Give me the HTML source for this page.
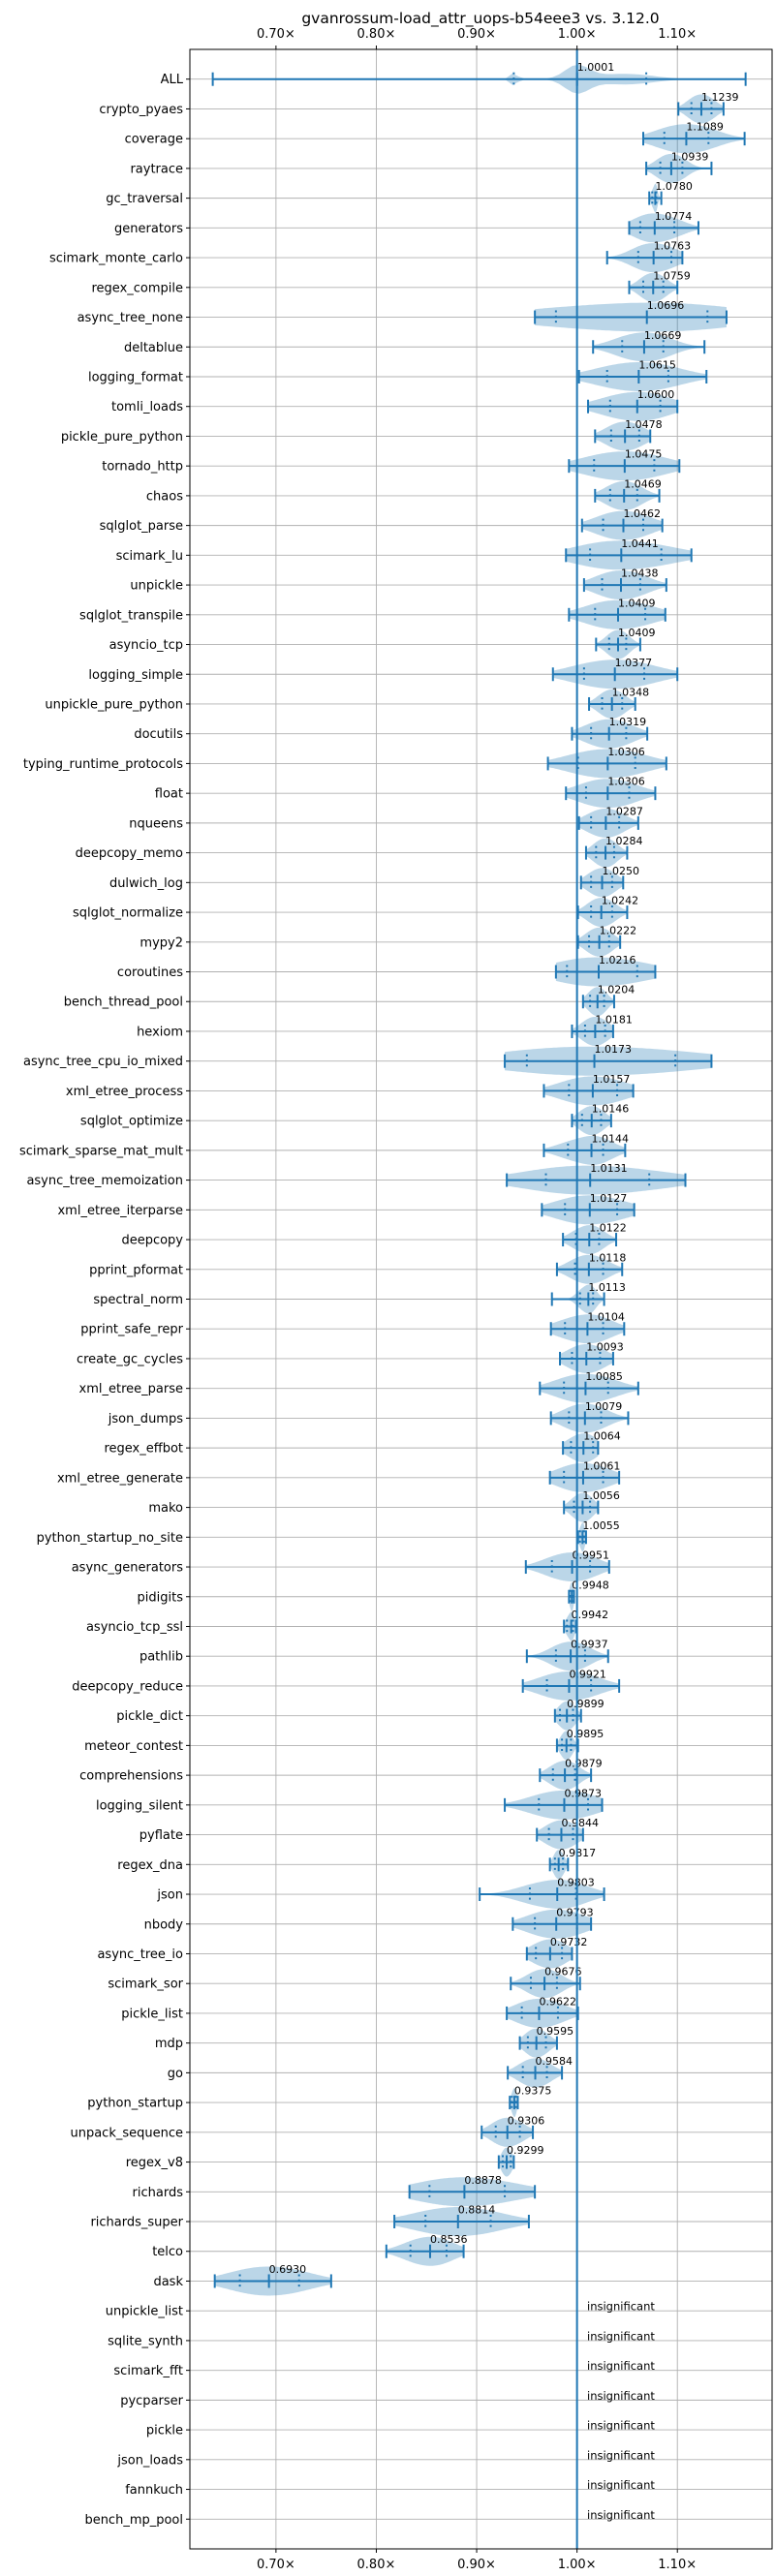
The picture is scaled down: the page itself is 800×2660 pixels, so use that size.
<!DOCTYPE html>
<html><head><meta charset="utf-8"><style>
html,body{margin:0;padding:0;background:#fff;}
svg{display:block;font-family:"DejaVu Sans","Liberation Sans",sans-serif;}
</style></head><body>
<svg id="chart" width="800" height="2660" viewBox="0 0 800 2660" xmlns="http://www.w3.org/2000/svg">
<rect x="0" y="0" width="800" height="2660" fill="#fff"/>
<text x="496" y="24" font-size="15.5" text-anchor="middle" fill="#000">gvanrossum-load_attr_uops-b54eee3 vs. 3.12.0</text>
<g id="grid"></g>
<g id="marks"></g>
<g id="axes"></g>
</svg>
<script>
const names = ["ALL","crypto_pyaes","coverage","raytrace","gc_traversal","generators","scimark_monte_carlo","regex_compile","async_tree_none","deltablue","logging_format","tomli_loads","pickle_pure_python","tornado_http","chaos","sqlglot_parse","scimark_lu","unpickle","sqlglot_transpile","asyncio_tcp","logging_simple","unpickle_pure_python","docutils","typing_runtime_protocols","float","nqueens","deepcopy_memo","dulwich_log","sqlglot_normalize","mypy2","coroutines","bench_thread_pool","hexiom","async_tree_cpu_io_mixed","xml_etree_process","sqlglot_optimize","scimark_sparse_mat_mult","async_tree_memoization","xml_etree_iterparse","deepcopy","pprint_pformat","spectral_norm","pprint_safe_repr","create_gc_cycles","xml_etree_parse","json_dumps","regex_effbot","xml_etree_generate","mako","python_startup_no_site","async_generators","pidigits","asyncio_tcp_ssl","pathlib","deepcopy_reduce","pickle_dict","meteor_contest","comprehensions","logging_silent","pyflate","regex_dna","json","nbody","async_tree_io","scimark_sor","pickle_list","mdp","go","python_startup","unpack_sequence","regex_v8","richards","richards_super","telco","dask","unpickle_list","sqlite_synth","scimark_fft","pycparser","pickle","json_loads","fannkuch","bench_mp_pool"];
const medians = [1.0001,1.1239,1.1089,1.0939,1.0780,1.0774,1.0763,1.0759,1.0696,1.0669,1.0615,1.0600,1.0478,1.0475,1.0469,1.0462,1.0441,1.0438,1.0409,1.0409,1.0377,1.0348,1.0319,1.0306,1.0306,1.0287,1.0284,1.0250,1.0242,1.0222,1.0216,1.0204,1.0181,1.0173,1.0157,1.0146,1.0144,1.0131,1.0127,1.0122,1.0118,1.0113,1.0104,1.0093,1.0085,1.0079,1.0064,1.0061,1.0056,1.0055,0.9951,0.9948,0.9942,0.9937,0.9921,0.9899,0.9895,0.9879,0.9873,0.9844,0.9817,0.9803,0.9793,0.9732,0.9676,0.9622,0.9595,0.9584,0.9375,0.9306,0.9299,0.8878,0.8814,0.8536,0.6930,null,null,null,null,null,null,null,null];
const mins = [0.637,1.101,1.066,1.069,1.072,1.052,1.030,1.052,0.958,1.016,1.002,1.011,1.018,0.992,1.018,1.005,0.989,1.007,0.992,1.019,0.976,1.012,0.995,0.971,0.989,1.002,1.009,1.004,1.001,1.001,0.979,1.006,0.995,0.928,0.967,0.995,0.967,0.930,0.965,0.986,0.980,0.975,0.974,0.983,0.963,0.974,0.986,0.973,0.987,1.001,0.949,0.992,0.987,0.950,0.946,0.978,0.980,0.963,0.928,0.960,0.973,0.903,0.936,0.950,0.934,0.930,0.943,0.931,0.933,0.905,0.922,0.833,0.818,0.810,0.639,null,null,null,null,null,null,null,null];
const q1s = [0.937,1.114,1.087,1.083,1.075,1.063,1.061,1.066,0.979,1.045,1.030,1.033,1.034,1.017,1.033,1.026,1.013,1.025,1.018,1.032,1.007,1.025,1.014,1.001,1.009,1.014,1.019,1.014,1.014,1.012,0.990,1.013,1.008,0.950,0.992,1.005,0.991,0.969,0.988,0.999,0.998,1.003,0.988,0.995,0.987,0.992,0.994,0.987,0.997,1.003,0.975,0.993,0.990,0.979,0.970,0.983,0.985,0.976,0.962,0.972,0.978,0.953,0.958,0.959,0.954,0.945,0.951,0.946,0.935,0.919,0.926,0.853,0.849,0.834,0.664,null,null,null,null,null,null,null,null];
const q3s = [1.069,1.134,1.131,1.105,1.079,1.097,1.094,1.086,1.130,1.086,1.091,1.083,1.062,1.077,1.060,1.066,1.084,1.063,1.068,1.049,1.067,1.045,1.049,1.058,1.052,1.042,1.037,1.035,1.035,1.032,1.060,1.027,1.028,1.098,1.040,1.024,1.026,1.072,1.040,1.022,1.026,1.016,1.026,1.023,1.031,1.024,1.016,1.026,1.013,1.007,1.013,0.996,0.996,1.008,1.014,0.996,0.994,0.998,1.011,0.996,0.986,0.999,1.000,0.985,0.980,0.981,0.969,0.970,0.939,0.943,0.934,0.928,0.914,0.870,0.723,null,null,null,null,null,null,null,null];
const maxs = [1.168,1.146,1.167,1.134,1.084,1.121,1.105,1.100,1.149,1.127,1.129,1.100,1.073,1.102,1.082,1.085,1.114,1.089,1.088,1.063,1.100,1.058,1.070,1.089,1.078,1.061,1.050,1.046,1.050,1.043,1.078,1.037,1.036,1.134,1.056,1.034,1.048,1.108,1.057,1.039,1.045,1.027,1.047,1.036,1.061,1.051,1.021,1.042,1.021,1.009,1.032,0.997,0.999,1.031,1.042,1.004,1.001,1.014,1.025,1.006,0.991,1.027,1.014,0.995,1.003,1.001,0.980,0.985,0.941,0.956,0.937,0.958,0.952,0.887,0.755,null,null,null,null,null,null,null,null];
const xTicks = [0.70,0.80,0.90,1.00,1.10];
const xTickLabels = ["0.70×","0.80×","0.90×","1.00×","1.10×"];

const L=196, R=797, T=51, B=2632;
const X0=0.6142, X1=1.1944;
function xs(v){return L+(v-X0)/(X1-X0)*(R-L);}
function ys(i){return T+(i+1)*(B-T)/(names.length+1);}
const NS="http://www.w3.org/2000/svg";
function mk(tag,attrs,parent){const e=document.createElementNS(NS,tag);for(const k in attrs)e.setAttribute(k,attrs[k]);parent.appendChild(e);return e;}
const grid=document.getElementById('grid'), marks=document.getElementById('marks'), axes=document.getElementById('axes');
const BLUE="#1f77b4";

// grid
xTicks.forEach((t,k)=>{
  const g=mk('line',{x1:xs(t),x2:xs(t),y1:T,y2:B,stroke:"#b0b0b0","stroke-width":0.9},grid);
  
  
});
names.forEach((n,i)=>{
  const g=mk('line',{x1:L,x2:R,y1:ys(i),y2:ys(i),stroke:"#b0b0b0","stroke-width":0.9},grid);
  
  
});

// violins
function density(i,v){
  const s = i===0 ? 0.014 : Math.max((q3s[i]-q1s[i])/2.3, 0.0015);
  const c=[q1s[i],medians[i],q3s[i]], w=[0.8,1,0.8];
  let d=0; for(let k=0;k<3;k++){d+=w[k]*Math.exp(-0.5*Math.pow((v-c[k])/s,2));}
  if(i===0){d=Math.exp(-0.5*Math.pow((v-0.937)/0.004,2))*0.45+Math.exp(-0.5*Math.pow((v-1.0)/0.012,2))+0.35*Math.exp(-0.5*Math.pow((v-1.04)/0.025,2))+0.12*Math.exp(-0.5*Math.pow((v-1.07)/0.02,2));}
  return d;
}
names.forEach((n,i)=>{
  if(medians[i]===null) return;
  const y=ys(i), N=80, pts=[]; let mx=0; const vals=[];
  for(let k=0;k<=N;k++){const v=mins[i]+(maxs[i]-mins[i])*k/N; const d=density(i,v); vals.push([v,d]); if(d>mx)mx=d;}
  const H=15;
  vals.forEach(([v,d])=>pts.push(xs(v).toFixed(1)+","+(y-d/mx*H).toFixed(1)));
  for(let k=vals.length-1;k>=0;k--){const [v,d]=vals[k];pts.push(xs(v).toFixed(1)+","+(y+d/mx*H).toFixed(1));}
  const p=mk('polygon',{points:pts.join(" "),fill:BLUE,"fill-opacity":0.3},marks);
  
  
  const w=mk('line',{x1:xs(mins[i]),x2:xs(maxs[i]),y1:y,y2:y,stroke:BLUE,"stroke-width":2},marks);
  
  
  [mins[i],maxs[i],medians[i]].forEach(v=>{
    const c=mk('line',{x1:xs(v),x2:xs(v),y1:y-7,y2:y+7,stroke:BLUE,"stroke-width":2},marks);
    
    
  });
  [q1s[i],q3s[i]].forEach(v=>{
    const q=mk('line',{x1:xs(v),x2:xs(v),y1:y-7,y2:y+7,stroke:BLUE,"stroke-width":2,"stroke-dasharray":"2,3.3"},marks);
    
    
  });
  const t=mk('text',{x:xs(medians[i]),y:y-8.5,"font-size":11,fill:"#000"},marks);
  t.textContent=medians[i].toFixed(4);
  
  
});
names.forEach((n,i)=>{
  if(medians[i]!==null) return;
  const t=mk('text',{x:606,y:ys(i)-0.5,"font-size":11.5,fill:"#000"},marks);
  t.textContent="insignificant";
  
  
});
// reference line at 1.0
const ref=mk('line',{x1:xs(1),x2:xs(1),y1:T,y2:B,stroke:BLUE,"stroke-width":2},marks);



// axes frame & ticks
const fr=mk('rect',{x:L,y:T,width:R-L,height:B-T,fill:"none",stroke:"#000","stroke-width":1},axes);


xTicks.forEach((t,k)=>{
  const x=xs(t);
  mk('line',{x1:x,x2:x,y1:T,y2:T-4,stroke:"#000","stroke-width":1},axes);
  mk('line',{x1:x,x2:x,y1:B,y2:B+4,stroke:"#000","stroke-width":1},axes);
  const a=mk('text',{x:x,y:T-12,"font-size":13,"text-anchor":"middle",fill:"#000"},axes);
  a.textContent=xTickLabels[k];
  
  
  const b=mk('text',{x:x,y:B+20,"font-size":13,"text-anchor":"middle",fill:"#000"},axes);
  b.textContent=xTickLabels[k];
  
  
});
names.forEach((n,i)=>{
  const y=ys(i);
  mk('line',{x1:L,x2:L-4,y1:y,y2:y,stroke:"#000","stroke-width":1},axes);
  const t=mk('text',{x:L-7,y:y+4.5,"font-size":13,"text-anchor":"end",fill:"#000"},axes);
  t.textContent=n;
  
  
});
</script>
</body></html>
